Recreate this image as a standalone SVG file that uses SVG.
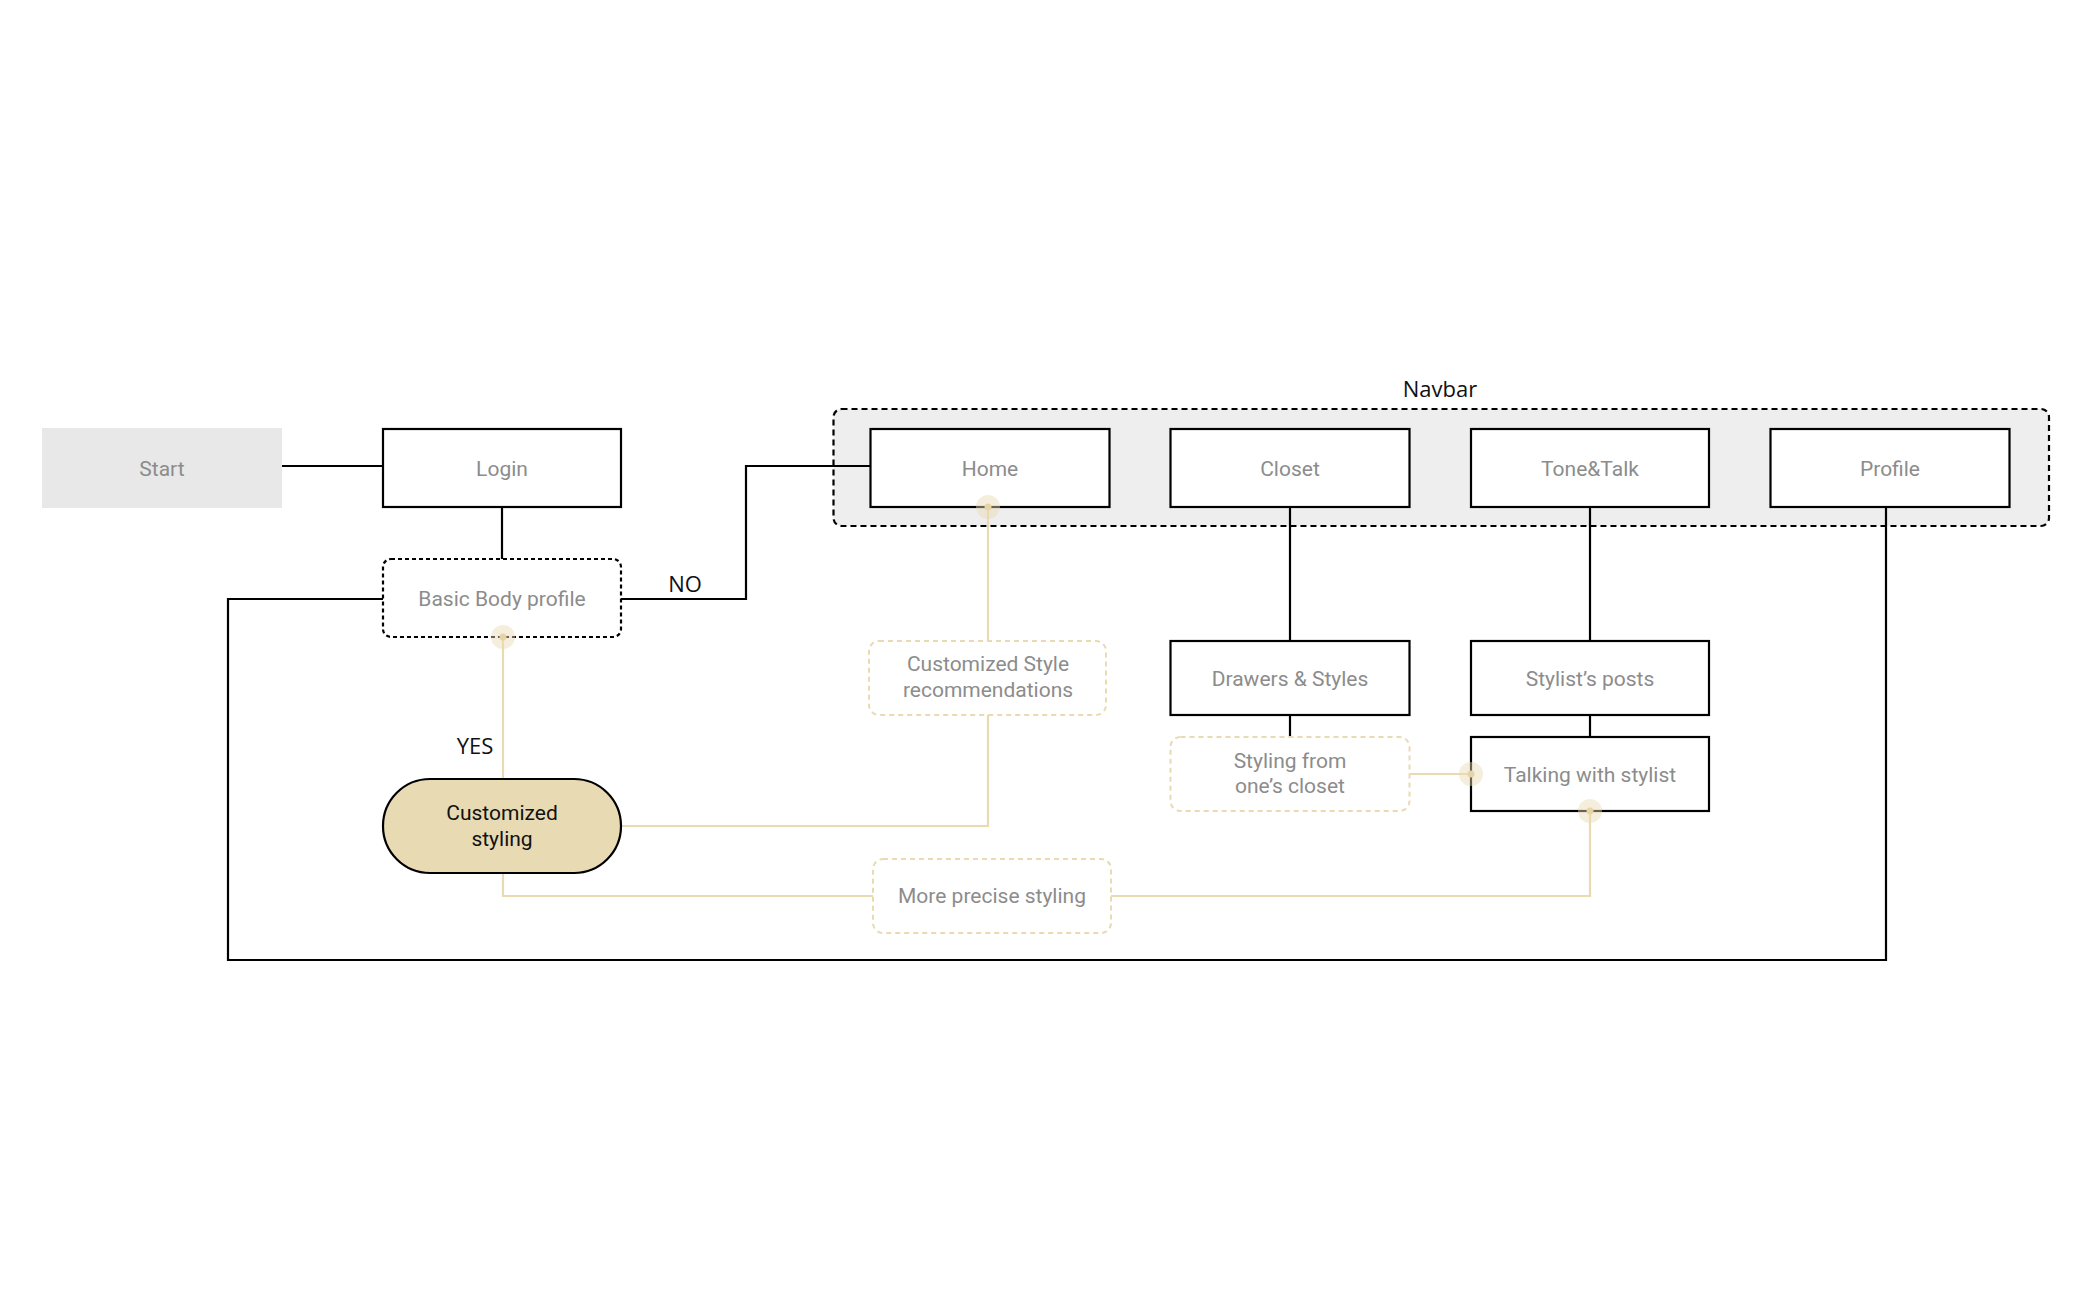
<svg xmlns="http://www.w3.org/2000/svg" width="2100" height="1298" viewBox="0 0 2100 1298">
<style>
.bg{fill:#ffffff}
.box{fill:#ffffff;stroke:#000;stroke-width:2.2}
.dbox{fill:#ffffff;stroke:#000;stroke-width:2.2;stroke-dasharray:4 3}
.gbox{fill:#ffffff;stroke:#e9dab2;stroke-width:2;stroke-dasharray:5 4}
.t{font-family:Roboto,"Liberation Sans",sans-serif;font-size:21px;fill:#8c8c8c;text-anchor:middle}
.tk{font-family:Roboto,"Liberation Sans",sans-serif;font-size:21px;fill:#111;text-anchor:middle}
.lbl{font-family:"Open Sans","Liberation Sans",sans-serif;font-size:22px;fill:#111;text-anchor:middle}
.bl{fill:none;stroke:#000;stroke-width:2.2}
.gl{fill:none;stroke:#e9dab2;stroke-width:2.2}
.halo{fill:#e9dab2;opacity:0.45}
.dot{fill:#e6d4a6}
</style>
<rect class="bg" x="0" y="0" width="2100" height="1298"/>

<g id="navbar">
  <rect x="833.5" y="409" width="1215.5" height="117" rx="8" fill="#eeeeee" stroke="#000" stroke-width="2.2" stroke-dasharray="6 4"/>
  <text class="lbl" x="1440" y="397">Navbar</text>
</g>

<g id="connectors">
  <path class="bl" d="M282 466 H383"/>
  <path class="bl" d="M502 507 V559"/>
  <path class="bl" d="M621 599 H746 V466 H870.5"/>
  <path class="bl" d="M383 599 H228 V960 H1886 V507"/>
  <path class="bl" d="M1290 507 V641"/>
  <path class="bl" d="M1290 715 V737"/>
  <path class="bl" d="M1590 507 V641"/>
  <path class="bl" d="M1590 715 V737"/>
  <path class="gl" d="M503 637 V779"/>
  <path class="gl" d="M988 507 V641"/>
  <path class="gl" d="M988 715 V826 H621"/>
  <path class="gl" d="M503 873 V896 H873"/>
  <path class="gl" d="M1111 896 H1590 V811"/>
  <path class="gl" d="M1409 774 H1471"/>
  <text class="lbl" x="685" y="592">NO</text>
  <text class="lbl" x="475" y="754">YES</text>
</g>

<g id="start">
  <rect x="42" y="428" width="240" height="80" fill="#e8e8e8"/>
  <text class="t" x="162" y="476">Start</text>
</g>
<g id="login">
  <rect class="box" x="383" y="429" width="238" height="78"/>
  <text class="t" x="502" y="476">Login</text>
</g>
<g id="basic-body-profile">
  <rect class="dbox" x="383" y="559" width="238" height="78" rx="8"/>
  <text class="t" x="502" y="606">Basic Body profile</text>
</g>
<g id="customized-styling">
  <rect x="383" y="779" width="238" height="94" rx="47" fill="#e8dab2" stroke="#000" stroke-width="2.2"/>
  <text class="tk" x="502" y="820">Customized</text>
  <text class="tk" x="502" y="846">styling</text>
</g>
<g id="home">
  <rect class="box" x="870.5" y="429" width="239" height="78"/>
  <text class="t" x="990" y="476">Home</text>
</g>
<g id="closet">
  <rect class="box" x="1170.5" y="429" width="239" height="78"/>
  <text class="t" x="1290" y="476">Closet</text>
</g>
<g id="tone-talk">
  <rect class="box" x="1471" y="429" width="238" height="78"/>
  <text class="t" x="1590" y="476">Tone&amp;Talk</text>
</g>
<g id="profile">
  <rect class="box" x="1770.5" y="429" width="239" height="78"/>
  <text class="t" x="1890" y="476">Profile</text>
</g>
<g id="customized-style-recommendations">
  <rect class="gbox" x="869" y="641" width="237" height="74" rx="10"/>
  <text class="t" x="988" y="671">Customized Style</text>
  <text class="t" x="988" y="697">recommendations</text>
</g>
<g id="drawers-styles">
  <rect class="box" x="1170.5" y="641" width="239" height="74"/>
  <text class="t" x="1290" y="686">Drawers &amp; Styles</text>
</g>
<g id="styling-from-closet">
  <rect class="gbox" x="1170.5" y="737" width="239" height="74" rx="10"/>
  <text class="t" x="1290" y="768">Styling from</text>
  <text class="t" x="1290" y="793">one’s closet</text>
</g>
<g id="stylists-posts">
  <rect class="box" x="1471" y="641" width="238" height="74"/>
  <text class="t" x="1590" y="686">Stylist’s posts</text>
</g>
<g id="talking-with-stylist">
  <rect class="box" x="1471" y="737" width="238" height="74"/>
  <text class="t" x="1590" y="782">Talking with stylist</text>
</g>
<g id="more-precise-styling">
  <rect class="gbox" x="873" y="859" width="238" height="74" rx="10"/>
  <text class="t" x="992" y="903">More precise styling</text>
</g>

<g id="ports">
  <circle class="halo" cx="503" cy="637" r="12"/><circle class="dot" cx="503" cy="637" r="3.5"/>
  <circle class="halo" cx="988" cy="507" r="12"/><circle class="dot" cx="988" cy="507" r="3.5"/>
  <circle class="halo" cx="1471" cy="774" r="12"/><circle class="dot" cx="1471" cy="774" r="3.5"/>
  <circle class="halo" cx="1590" cy="811" r="12"/><circle class="dot" cx="1590" cy="811" r="3.5"/>
</g>
</svg>
